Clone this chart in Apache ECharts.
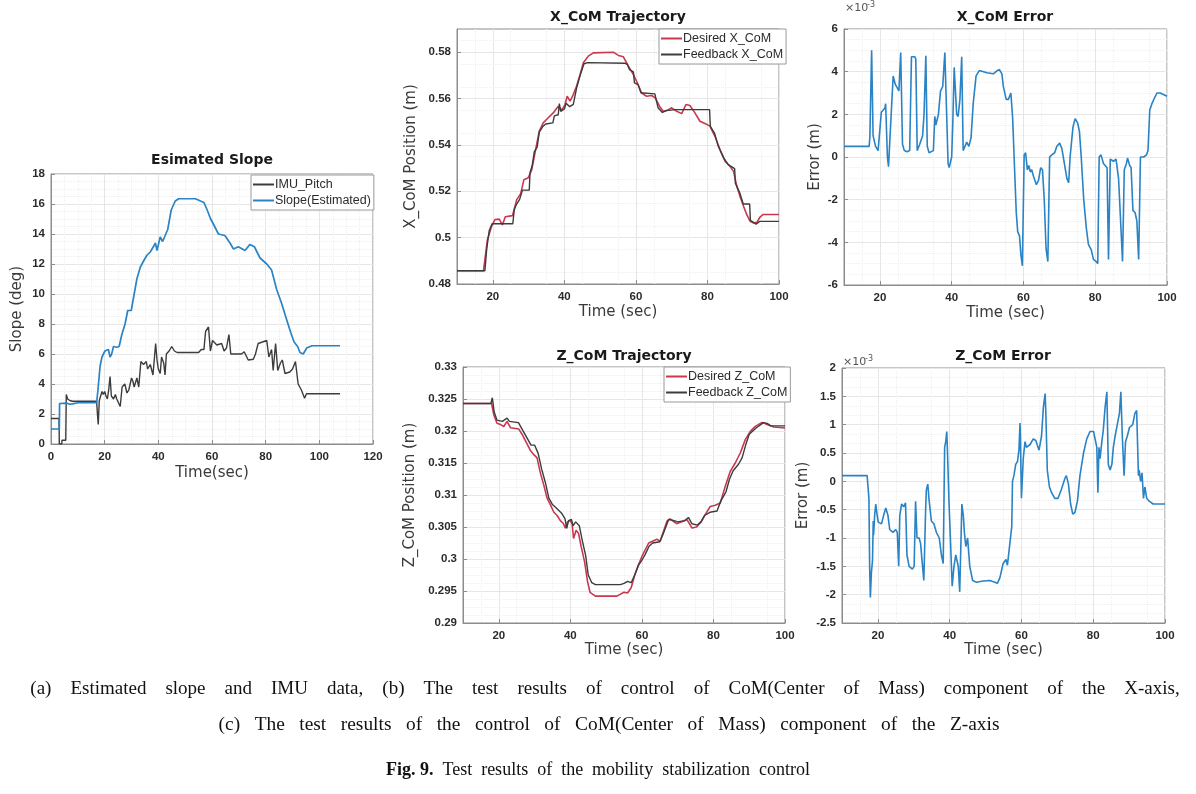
<!DOCTYPE html>
<html>
<head>
<meta charset="utf-8">
<script src="https://cdn.jsdelivr.net/npm/echarts@6/dist/echarts.min.js"></script>
<style>
html,body{margin:0;padding:0;background:#fff;}
#chart{width:1196px;height:794px;}
</style>
</head>
<body>
<div id="chart"></div>
<script>
// ---------- (a) Estimated slope ----------
const slopeTime = [0,3.1,3.2,6,7,8,10,17,17.5,18.3,19,20.1,21.4,22,22.6,23.3,24.5,25.4,26.4,27.6,28.6,29.9,30.8,32,33.3,34.5,35.8,37,38.3,38.9,39.5,40.7,41.6,42.3,43.5,44.8,46.3,47.6,53.8,55.7,57,58.2,59.5,60.7,62.4,64.8,66.7,68,69.8,72.3,74.1,75.8,77.9,80.4,82.2,84.1,85.9,87.8,89.4,90.6,91.9,92.8,94,95.3,97.2,107.7];
const slopeValue = [1.0,1.0,2.7,2.72,2.65,2.68,2.75,2.75,3.6,5.2,5.8,6.2,6.3,5.8,6.0,6.5,6.45,6.5,7.3,8.0,8.9,8.9,9.8,11.0,11.8,12.2,12.6,12.8,13.2,13.4,12.9,13.8,13.5,13.6,14.3,15.6,16.2,16.35,16.35,16.2,16.1,15.6,15.0,14.6,14.0,13.9,13.4,13.0,13.15,12.9,13.3,13.15,12.4,12.0,11.6,10.3,9.4,8.3,7.4,6.8,6.5,6.1,6.0,6.4,6.55,6.55];
const imuTime = [0,3.0,3.1,4.0,4.1,5.5,5.7,6.2,7,8,17,17.3,17.6,18,18.5,19,19.5,20,20.5,21,21.5,22,22.5,23.3,24,24.5,25,25.8,26.5,27.5,28.3,29,30,30.5,31,32,32.7,33.5,34.5,35.5,36,37,38,39,39.5,40,40.7,41.2,42,42.5,43,43.5,44,45,46,47,55,56,57,57.6,58.7,59.4,60.2,61.8,63.6,64.5,65.4,66.3,67,71,72,73.5,75.4,76.2,77.2,80.4,81.2,82.2,82.8,83.7,84.5,85.5,86.2,87.2,89,90,91.1,92.1,93.3,94.5,95.2,107.7];
const imuValue = [1.7,1.7,0,0,0.25,0.25,3.3,3.0,2.9,2.85,2.85,2.0,1.3,2.9,3.2,3.5,3.3,3.5,3.2,3.0,3.6,4.5,3.2,3.0,3.3,3.0,3.1,2.5,3.8,4.0,3.4,3.6,4.4,4.2,3.8,4.4,3.8,5.5,5.3,5.5,5.0,5.3,4.6,6.7,5.6,5.0,4.7,5.8,5.4,4.6,6.0,5.9,6.2,6.5,6.2,6.1,6.1,6.3,6.3,7.5,7.8,6.2,6.9,6.6,6.7,6.2,6.4,7.3,6.0,6.0,6.15,5.6,5.65,6.0,6.7,6.9,5.8,6.3,4.9,6.7,4.9,5.4,5.6,4.7,4.8,5.0,5.5,4.0,3.6,3.05,3.35,3.35];

// ---------- (b) X_CoM ----------
const xDesTime = [10,17.4,18.5,19.7,20.6,21.8,22.7,23.5,24,25.5,26.7,27.8,28.7,29.9,30.9,31.8,33,34.1,35.5,36.9,38.3,39.3,40.2,40.8,41.6,42.5,43.4,44.4,45.3,46.7,48.1,53.7,55.1,56.5,57.9,59.3,60.4,61.6,63,64.4,65.4,66.6,67.7,69.1,70,71.4,72.8,74,75.1,76.5,77.9,79.3,80.7,82.1,83.5,84.9,86.3,87.3,88.2,89.1,90.1,91,91.9,92.9,93.8,94.7,95.6,100];
const xDesValue = [0.4857,0.4857,0.4991,0.505,0.5078,0.508,0.5055,0.509,0.5095,0.5095,0.5164,0.519,0.525,0.5258,0.5293,0.5366,0.546,0.5495,0.5517,0.5538,0.5567,0.555,0.5574,0.561,0.5589,0.5617,0.5653,0.5703,0.5754,0.5783,0.5797,0.58,0.5786,0.578,0.574,0.5703,0.5668,0.5624,0.561,0.5613,0.5603,0.5567,0.5544,0.5552,0.556,0.5545,0.5535,0.5574,0.557,0.5538,0.5502,0.5492,0.5481,0.5437,0.538,0.533,0.5308,0.5286,0.5222,0.5178,0.5135,0.5099,0.5071,0.5063,0.5066,0.5089,0.51,0.51];
const xFbTime = [10,17.8,18.3,19,19.8,25.6,26,26.5,27.5,28.3,30.2,30.4,31,31.6,32.4,33,34,34.8,36.8,37.2,38.3,38.6,39,40,40.5,41.5,42.5,43.5,44.5,45.5,46.5,57,57.6,58.2,59.3,59.6,60.6,61.4,65.3,65.8,66.2,67.4,68.5,71,80.6,80.8,82,83,84.5,85.8,87.6,87.8,89,90,91.8,92,93.6,94.6,100];
const xFbValue = [0.4857,0.4857,0.495,0.503,0.506,0.506,0.512,0.514,0.5165,0.5205,0.5205,0.528,0.531,0.537,0.539,0.5455,0.548,0.549,0.5495,0.5525,0.553,0.5578,0.5545,0.5555,0.558,0.5565,0.5575,0.565,0.5705,0.575,0.5755,0.5752,0.5748,0.5725,0.5715,0.5668,0.566,0.5625,0.562,0.5615,0.556,0.554,0.5548,0.5552,0.5552,0.548,0.545,0.5395,0.5345,0.5315,0.5298,0.5235,0.5195,0.5145,0.5145,0.5075,0.5058,0.507,0.507];
// X_CoM error, in units of 1e-3 m
const xErrTime = [10,17,17.2,17.7,18.1,18.4,18.8,19.5,19.9,20.4,21.4,21.6,22.1,22.4,22.9,23.7,24.3,24.8,25.3,25.8,26.3,26.8,27.6,28.3,28.8,29.7,30,30.4,31.1,31.9,32.3,32.8,33.2,33.7,34.9,35.3,35.6,36.3,36.9,37.5,38.1,38.6,39,39.3,40,40.3,40.7,41.4,41.8,42.3,42.8,43.2,43.7,44.2,44.8,45.4,46,46.8,47.7,49.8,51.6,52.7,53.3,54,54.4,55.2,55.8,56.5,57,57.4,58,58.4,58.9,59.3,59.7,60.2,60.6,61.1,61.5,61.9,62.3,62.8,63.6,64.2,64.8,65.3,65.8,66.3,66.8,67.3,67.9,68.7,69.3,70.1,70.7,71.4,72.1,72.6,73,73.8,74.4,75.1,75.6,76.1,76.8,77.5,78.1,78.9,79.5,80.3,80.7,81.1,81.6,82.3,83.3,83.7,84.2,85.1,85.8,86.5,87.3,87.6,88.1,88.7,89,89.6,90,90.5,91.1,91.6,92.1,92.6,93.5,94.3,94.7,95.2,95.8,96.6,97.2,98.1,100];
const xErrValue = [0.5,0.5,0.9,5.0,1.0,1.0,0.5,0.3,0.3,2.1,2.3,2.5,0.0,-0.45,1.2,3.8,3.4,3.4,3.1,4.9,0.6,0.3,0.25,0.3,4.7,4.7,4.6,0.3,0.6,1.0,2.0,4.75,0.5,0.2,0.3,1.9,1.5,2.0,3.1,3.3,4.9,2.0,-0.3,-0.5,0.0,1.5,4.2,2.0,1.9,2.7,4.7,0.3,0.5,0.7,0.5,0.9,2.5,3.8,4.05,3.95,3.9,4.05,4.1,3.9,3.3,2.7,2.7,3.0,1.8,0.0,-2.6,-3.5,-3.7,-4.6,-5.1,0.1,0.2,-0.6,-0.4,-0.7,-0.6,-0.9,-1.3,-1.1,-0.5,-0.6,-2.0,-4.3,-4.9,0.0,0.1,0.2,0.5,0.65,0.4,-0.3,-1.0,-1.2,0.0,1.4,1.8,1.6,1.2,0.0,-2.0,-3.3,-4.1,-4.35,-4.8,-4.9,-5.0,0.0,0.1,-0.3,-0.5,-4.8,-0.1,-0.2,-0.1,-1.0,-3.8,-4.9,-0.6,-0.3,-0.05,-0.4,-0.5,-2.5,-2.6,-3.0,-4.8,0.0,0.0,0.1,0.3,2.2,2.5,2.8,3.0,3.0,2.85];

// ---------- (c) Z_CoM ----------
const zDesTime = [10,18,18.6,19.5,20.5,21.4,22.3,23.3,24.7,25.6,26.5,27.9,28.8,29.8,30.7,31.6,32.6,33.5,34.4,35.4,36.3,37.2,38.1,38.6,39.2,40,40.5,40.9,41.6,42.3,43,44,44.8,45.5,47,53,53.5,55,56,57,58,59,60,61.9,64.2,65.1,67,67.9,69.7,72.6,74,75.3,76.7,77.7,79.1,80.5,81.9,83.3,84.7,86.1,87.5,88.9,90.3,91.7,93.6,95,96.9,100];
const zDesValue = [0.3243,0.3243,0.32255,0.3212,0.321,0.3207,0.3215,0.3205,0.3204,0.3203,0.3195,0.318,0.317,0.3163,0.3158,0.3135,0.3115,0.3095,0.3085,0.3073,0.3068,0.306,0.3055,0.3048,0.3058,0.306,0.3055,0.3032,0.3045,0.304,0.302,0.2995,0.2965,0.2948,0.2942,0.2942,0.2941,0.2948,0.2947,0.2955,0.2975,0.299,0.3004,0.3025,0.3031,0.30276,0.3059,0.30625,0.30552,0.30615,0.30484,0.305,0.3059,0.30693,0.3082,0.3084,0.30875,0.31135,0.3137,0.315,0.31656,0.31865,0.31995,0.32073,0.32135,0.321,0.32063,0.32047];
const zFbTime = [10,17.8,18.2,18.7,19.5,21,22.3,23,25.5,26.5,28,29,30,31,32,33,34,35,36,37.5,38.5,39,39.5,40.3,40.8,41.5,42.5,43.3,44.3,45,46,47,54,55,56,57,58,59,60,61,62,63,65,66,67.5,69,70,72,73,74,75.5,76.5,77.5,79,81,82,83.5,84.5,85.5,87,88,89,90,92,94,95,96,100];
const zFbValue = [0.3243,0.3243,0.3252,0.323,0.3217,0.3215,0.322,0.3215,0.3213,0.3203,0.3188,0.3178,0.3178,0.3165,0.314,0.312,0.3095,0.3085,0.308,0.3072,0.3063,0.3048,0.306,0.3062,0.3052,0.3058,0.3052,0.303,0.3005,0.2975,0.2963,0.296,0.296,0.2962,0.2965,0.2963,0.2975,0.299,0.2998,0.3008,0.302,0.3025,0.3027,0.304,0.3062,0.306,0.3058,0.306,0.3065,0.3055,0.3053,0.3058,0.3068,0.3073,0.3075,0.309,0.3105,0.3125,0.3138,0.3148,0.3158,0.3178,0.3195,0.3205,0.3213,0.3212,0.3208,0.3208];
// Z_CoM error, in units of 1e-3 m
const zErrTime = [10,17,17.5,17.7,17.9,18.2,18.5,18.7,18.8,19.1,19.4,19.8,20.1,21,21.6,22.2,22.8,23.3,24.2,25,25.4,25.8,26.1,26.6,27.2,27.7,28.1,28.7,29.6,30.1,30.5,30.9,31.5,31.9,32.3,32.8,33.3,33.5,33.9,34.3,34.9,35.6,36.3,37.1,37.7,38.2,38.6,38.9,39.2,39.5,39.8,40.2,40.7,41.2,41.7,42.4,42.8,43.4,43.8,44.1,44.5,45,45.6,46.4,47.5,49.3,51.2,52.6,53.3,54,54.9,55.7,56.1,56.6,57.3,57.5,57.9,58.4,58.9,59.3,59.6,59.7,60,60.5,61,61.4,62.4,63.3,64,64.9,65.6,66.1,66.6,66.8,67.2,67.8,68.4,69.3,70.2,71.1,72.1,72.5,73.1,73.7,74.3,74.9,75.6,76.3,77.3,78.2,79.1,80.1,80.5,81,81.3,81.6,81.9,82.4,82.8,83.3,83.8,84.2,84.7,85.2,85.6,86.1,86.7,87.3,87.7,88.1,88.6,89,89.5,90.1,91,91.6,92.1,92.6,92.8,93.2,93.6,94,94.4,94.9,95.6,96.7,100];
const zErrValue = [0.1,0.1,-0.3,-1.5,-2.05,-1.6,-1.4,-0.7,-0.95,-0.6,-0.4,-0.6,-0.72,-0.75,-0.6,-0.47,-0.6,-0.85,-0.9,-0.85,-0.9,-1.5,-0.6,-0.4,-0.45,-0.38,-1.3,-1.5,-1.55,-1.5,-0.35,-1.0,-1.0,-1.1,-1.4,-1.75,-0.5,-0.15,-0.05,-0.35,-0.7,-0.75,-0.9,-1.0,-1.3,-1.45,0.6,0.7,0.88,0.3,-0.35,-1.0,-1.85,-1.5,-1.3,-1.5,-1.95,-0.4,-0.6,-0.9,-1.15,-1.0,-1.5,-1.75,-1.78,-1.76,-1.75,-1.78,-1.8,-1.7,-1.45,-1.38,-1.48,-1.5,-0.8,0.0,0.1,0.3,0.35,0.55,1.03,0.8,-0.3,0.4,0.7,0.6,0.65,0.75,0.72,0.55,0.8,1.3,1.55,1.2,0.2,-0.1,-0.2,-0.3,-0.3,-0.15,0.05,0.1,-0.05,-0.4,-0.58,-0.55,-0.35,0.1,0.5,0.75,0.88,0.88,0.9,0.6,-0.2,0.6,0.4,0.7,0.9,1.3,1.58,0.3,0.2,0.3,0.6,0.8,1.0,1.2,1.58,0.8,0.1,0.7,0.8,0.95,1.0,1.2,1.25,0.1,0.2,0.0,0.15,-0.3,-0.1,-0.3,-0.35,-0.4,-0.4];

const zip = (t, v) => t.map((x, i) => [x, v[i]]);

const BLUE = '#2a83c4', DARK = '#3c3c3c', RED = '#c8384f';
const LABEL = {color:'#2b2b2b', fontWeight:'bold', fontSize:11.5, fontFamily:'Liberation Sans'};
const NAMEF = {color:'#3a3a3a', fontSize:15, fontFamily:'DejaVu Sans'};
const gridLine = {show:true, lineStyle:{color:'#e6e6e6', width:1}};
const minorLine = {show:true, lineStyle:{color:'#efefef', width:1, type:'dotted'}};
const TICKS20 = [20,40,60,80,100];
const AXC = '#8c8c8c';

function xAx(gi, opts) {
  return Object.assign({
    type:'value', gridIndex:gi, name:'Time (sec)', nameLocation:'middle', nameGap:21,
    nameTextStyle:NAMEF, min:10, max:100, interval:10,
    axisLine:{show:true, onZero:false, lineStyle:{color:AXC}},
    axisTick:{show:true, inside:true, length:4, customValues:TICKS20, lineStyle:{color:AXC}},
    axisLabel:Object.assign({margin:7, customValues:TICKS20}, LABEL),
    splitLine:gridLine, minorTick:{show:false, splitNumber:2}, minorSplitLine:minorLine
  }, opts || {});
}
function yAx(gi, opts) {
  return Object.assign({
    type:'value', gridIndex:gi, nameLocation:'middle', nameRotate:90,
    nameTextStyle:NAMEF,
    axisLine:{show:true, onZero:false, lineStyle:{color:AXC}},
    axisTick:{show:true, inside:true, length:4, lineStyle:{color:AXC}},
    axisLabel:Object.assign({margin:6}, LABEL),
    splitLine:gridLine, minorTick:{show:false, splitNumber:4}, minorSplitLine:minorLine
  }, opts || {});
}
const gridBase = {show:true, borderColor:AXC, borderWidth:1, backgroundColor:'#fff', containLabel:false};
const legendBase = {orient:'vertical', icon:'rect', itemWidth:21, itemHeight:2, itemGap:3,
  padding:[3,3,3,2], backgroundColor:'#fff', borderColor:'#9a9a9a', borderWidth:1, borderRadius:0,
  textStyle:{color:'#2b2b2b', fontSize:12.5, fontFamily:'Liberation Sans', padding:[0,0,0,-4]}};
const titleStyle = {color:'#1a1a1a', fontSize:14, fontWeight:'bold', fontFamily:'DejaVu Sans'};

const option = {
  backgroundColor:'#fff',
  animation:false,
  title:[
    {text:'Esimated Slope', left:212, top:153, textAlign:'center', textStyle:titleStyle, padding:0},
    {text:'X_CoM Trajectory', left:618, top:10, textAlign:'center', textStyle:titleStyle, padding:0},
    {text:'X_CoM Error', left:1005, top:10, textAlign:'center', textStyle:titleStyle, padding:0},
    {text:'Z_CoM Trajectory', left:624, top:349, textAlign:'center', textStyle:titleStyle, padding:0},
    {text:'Z_CoM Error', left:1003, top:349, textAlign:'center', textStyle:titleStyle, padding:0}
  ],
  grid:[
    Object.assign({left:51, top:174, width:322, height:270}, gridBase),
    Object.assign({left:457, top:29, width:322, height:255}, gridBase),
    Object.assign({left:844, top:29, width:323, height:256}, gridBase),
    Object.assign({left:463, top:367, width:322, height:256}, gridBase),
    Object.assign({left:842, top:368, width:323, height:255}, gridBase)
  ],
  legend:[
    Object.assign({left:251, top:175, data:['IMU_Pitch','Slope(Estimated)']}, legendBase),
    Object.assign({left:659, top:29, data:['Desired X_CoM','Feedback X_CoM']}, legendBase),
    Object.assign({left:664, top:367, data:['Desired Z_CoM','Feedback Z_CoM']}, legendBase)
  ],
  xAxis:[
    xAx(0, {name:'Time(sec)', nameGap:22, min:0, max:120, interval:20, minorTick:{show:false, splitNumber:4},
            axisTick:{show:true, inside:true, length:4, lineStyle:{color:AXC}},
            axisLabel:Object.assign({margin:7}, LABEL)}),
    xAx(1), xAx(2), xAx(3, {nameGap:19}), xAx(4, {nameGap:20})
  ],
  yAxis:[
    yAx(0, {name:'Slope (deg)', nameGap:26, min:0, max:18, interval:2}),
    yAx(1, {name:'X_CoM Position (m)', nameGap:38, min:0.48, max:0.59, interval:0.01,
            minorTick:{show:false, splitNumber:2},
            axisTick:{show:true, inside:true, length:4, customValues:[0.48,0.5,0.52,0.54,0.56,0.58], lineStyle:{color:AXC}},
            axisLabel:Object.assign({margin:6, customValues:[0.48,0.5,0.52,0.54,0.56,0.58]}, LABEL)}),
    yAx(2, {name:'Error (m)', nameGap:21, min:-6, max:6, interval:2}),
    yAx(3, {name:'Z_CoM Position (m)', nameGap:45, min:0.29, max:0.33, interval:0.005, minorTick:{show:false, splitNumber:4}}),
    yAx(4, {name:'Error (m)', nameGap:31, min:-2.5, max:2, interval:0.5, minorTick:{show:false, splitNumber:3}})
  ],
  series:[
    {name:'IMU_Pitch', type:'line', xAxisIndex:0, yAxisIndex:0, data:zip(imuTime, imuValue), showSymbol:false, lineStyle:{color:DARK, width:1.4}, itemStyle:{color:DARK}, z:3},
    {name:'Slope(Estimated)', type:'line', xAxisIndex:0, yAxisIndex:0, data:zip(slopeTime, slopeValue), showSymbol:false, lineStyle:{color:BLUE, width:1.7}, itemStyle:{color:BLUE}, z:4},
    {name:'Desired X_CoM', type:'line', xAxisIndex:1, yAxisIndex:1, data:zip(xDesTime, xDesValue), showSymbol:false, lineStyle:{color:RED, width:1.6}, itemStyle:{color:RED}, z:3},
    {name:'Feedback X_CoM', type:'line', xAxisIndex:1, yAxisIndex:1, data:zip(xFbTime, xFbValue), showSymbol:false, lineStyle:{color:DARK, width:1.4}, itemStyle:{color:DARK}, z:4},
    {name:'X_CoM error', type:'line', xAxisIndex:2, yAxisIndex:2, data:zip(xErrTime, xErrValue), showSymbol:false, lineStyle:{color:BLUE, width:1.6}, itemStyle:{color:BLUE}},
    {name:'Desired Z_CoM', type:'line', xAxisIndex:3, yAxisIndex:3, data:zip(zDesTime, zDesValue), showSymbol:false, lineStyle:{color:RED, width:1.6}, itemStyle:{color:RED}, z:3},
    {name:'Feedback Z_CoM', type:'line', xAxisIndex:3, yAxisIndex:3, data:zip(zFbTime, zFbValue), showSymbol:false, lineStyle:{color:DARK, width:1.4}, itemStyle:{color:DARK}, z:4},
    {name:'Z_CoM error', type:'line', xAxisIndex:4, yAxisIndex:4, data:zip(zErrTime, zErrValue), showSymbol:false, lineStyle:{color:BLUE, width:1.6}, itemStyle:{color:BLUE}}
  ],
  graphic:[
    {type:'text', left:845, top:3, style:{text:'×10', fontSize:11, fontFamily:'DejaVu Sans', fill:'#555'}},
    {type:'text', left:867, top:1, style:{text:'-3', fontSize:8, fontFamily:'DejaVu Sans', fill:'#555'}},
    {type:'text', left:843, top:357, style:{text:'×10', fontSize:11, fontFamily:'DejaVu Sans', fill:'#555'}},
    {type:'text', left:865, top:355, style:{text:'-3', fontSize:8, fontFamily:'DejaVu Sans', fill:'#555'}},
    {type:'text', x:605, y:689, style:{text:'(a)    Estimated    slope    and    IMU    data,    (b)    The    test    results    of    control    of    CoM(Center    of    Mass)    component    of    the    X-axis,', textAlign:'center', textVerticalAlign:'middle', fontSize:19, fontFamily:'Liberation Serif', fill:'#111'}},
    {type:'text', x:609, y:725, style:{text:'(c)   The   test   results   of   the   control   of   CoM(Center   of   Mass)   component   of   the   Z-axis', textAlign:'center', textVerticalAlign:'middle', fontSize:19.4, fontFamily:'Liberation Serif', fill:'#111'}},
    {type:'text', x:598, y:770, style:{text:'{b|Fig. 9.}  Test  results  of  the  mobility  stabilization  control', textAlign:'center', textVerticalAlign:'middle', fontSize:18, fontFamily:'Liberation Serif', fill:'#111', rich:{b:{fontWeight:'bold', fontSize:18, fontFamily:'Liberation Serif', fill:'#111'}}}}
  ]
};
const chart = echarts.init(document.getElementById('chart'), null, {renderer:'canvas'});
chart.setOption(option);
</script>
</body>
</html>
